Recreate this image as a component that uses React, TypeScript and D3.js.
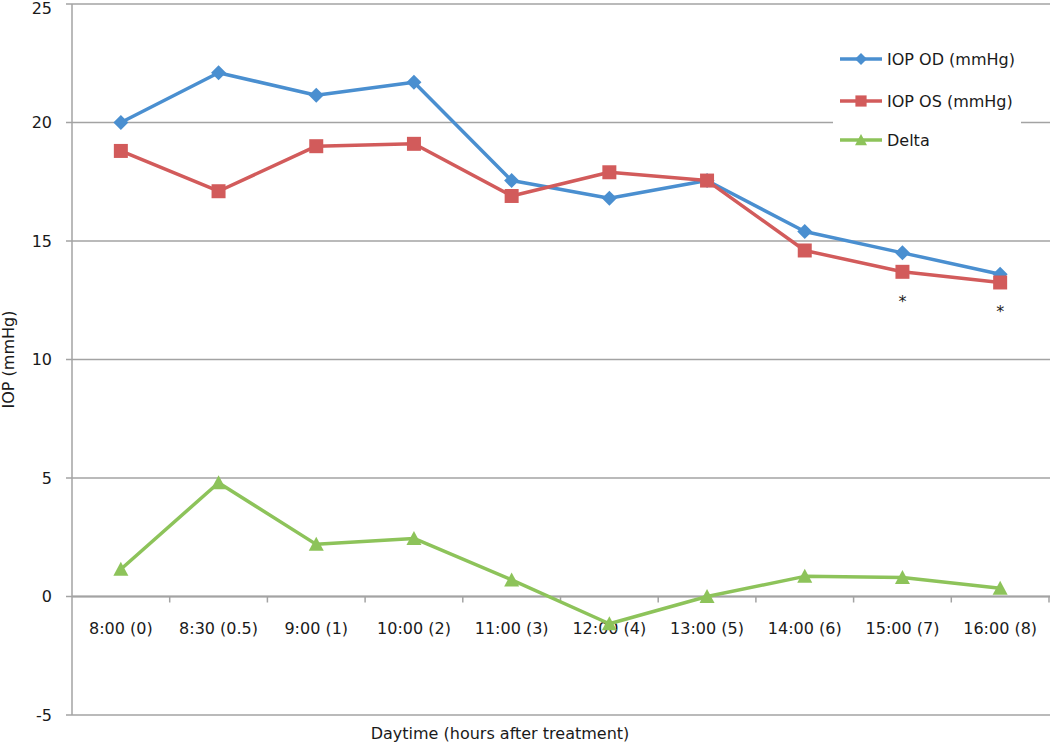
import React from "react";
import * as d3 from "d3";

const categories = [
  "8:00 (0)",
  "8:30 (0.5)",
  "9:00 (1)",
  "10:00 (2)",
  "11:00 (3)",
  "12:00 (4)",
  "13:00 (5)",
  "14:00 (6)",
  "15:00 (7)",
  "16:00 (8)",
];
const iopOD = [20.0, 22.1, 21.15, 21.7, 17.55, 16.8, 17.55, 15.4, 14.5, 13.6];
const iopOS = [18.8, 17.1, 19.0, 19.1, 16.9, 17.9, 17.55, 14.6, 13.7, 13.25];
const delta = [1.15, 4.8, 2.2, 2.45, 0.7, -1.15, 0.0, 0.85, 0.8, 0.35];
const yTicks = [-5, 0, 5, 10, 15, 20, 25];
const starred = [8, 9];

const W = 1050;
const H = 745;
const margin = { top: 4, right: 1, bottom: 30, left: 72 };
const FONT = "'DejaVu Sans', sans-serif";

const series = [
  { name: "IOP OD (mmHg)", values: iopOD, color: "#4A8FD0", marker: "diamond" },
  { name: "IOP OS (mmHg)", values: iopOS, color: "#D25B5B", marker: "square" },
  { name: "Delta", values: delta, color: "#8DC35A", marker: "triangle" },
];

const symbolPath = (m: string) => {
  if (m === "diamond") return "M0,-7.5L7.5,0L0,7.5L-7.5,0Z";
  if (m === "square") return "M-7,-7H7V7H-7Z";
  return "M0,-7.5L7.5,6.5L-7.5,6.5Z";
};

export default function App() {
  const x = d3
    .scaleBand<string>()
    .domain(categories)
    .range([margin.left, W - margin.right])
    .padding(0);
  const y = d3.scaleLinear().domain([-5, 25]).range([715, 4]);
  const cx = (i: number) => (x(categories[i]) as number) + x.bandwidth() / 2;

  const line = d3
    .line<number>()
    .x((_, i) => cx(i))
    .y((d) => y(d));

  const boundaries = categories.map((c) => (x(c) as number) + x.bandwidth());

  return (
    <svg
      width={W}
      height={H}
      style={{ position: "absolute", left: 0, top: 0, background: "#fff" }}
      fontFamily={FONT}
    >
      {/* gridlines */}
      {yTicks.map((t) => (
        <g key={t}>
          <line
            x1={margin.left - 6}
            x2={W}
            y1={y(t)}
            y2={y(t)}
            stroke="#a3a3a3"
            strokeWidth={1.5}
          />
          <text
            x={52}
            y={Math.max(y(t), 8)}
            dy="0.35em"
            textAnchor="end"
            fontSize={16}
            fill="#1a1a1a"
          >
            {t}
          </text>
        </g>
      ))}
      {/* y axis */}
      <line x1={margin.left} x2={margin.left} y1={y(25)} y2={y(-5)} stroke="#a3a3a3" strokeWidth={1.5} />
      {/* x axis at 0 */}
      <line x1={margin.left} x2={W} y1={y(0)} y2={y(0)} stroke="#a3a3a3" strokeWidth={2} />
      {boundaries.map((b, i) => (
        <line key={i} x1={b} x2={b} y1={y(0)} y2={y(0) + 6} stroke="#a3a3a3" strokeWidth={1.5} />
      ))}
      {categories.map((c, i) => (
        <text key={c} x={cx(i)} y={y(0) + 37} textAnchor="middle" fontSize={16} fill="#1a1a1a">
          {c}
        </text>
      ))}
      {/* legend background */}
      <rect x={833} y={38} width={188} height={132} fill="#fff" />
      {/* series */}
      {series.map((s) => (
        <g key={s.name}>
          <path d={line(s.values) as string} fill="none" stroke={s.color} strokeWidth={3.5} strokeLinejoin="round" />
          {s.values.map((v, i) => (
            <path key={i} d={symbolPath(s.marker)} transform={`translate(${cx(i)},${y(v)})`} fill={s.color} />
          ))}
        </g>
      ))}
      {/* significance markers */}
      {starred.map((i) => (
        <text
          key={i}
          x={cx(i)}
          y={y(Math.min(iopOD[i], iopOS[i])) + 35}
          textAnchor="middle"
          fontSize={16}
          fill="#1a1a1a"
        >
          *
        </text>
      ))}
      {/* legend */}
      {series.map((s, k) => {
        const ly = [59, 101, 140][k];
        return (
          <g key={s.name} transform={`translate(840,${ly})`}>
            <line x1={0} x2={42} y1={0} y2={0} stroke={s.color} strokeWidth={3.5} />
            <path d={symbolPath(s.marker)} transform="translate(21,0) scale(0.8)" fill={s.color} />
            <text x={47} y={0} dy="0.35em" fontSize={16} fill="#1a1a1a">
              {s.name}
            </text>
          </g>
        );
      })}
      {/* axis titles */}
      <text x={500} y={739} textAnchor="middle" fontSize={16} fill="#1a1a1a">
        Daytime (hours after treatment)
      </text>
      <text
        transform={`translate(14,${y(10)}) rotate(-90)`}
        textAnchor="middle"
        fontSize={16}
        fill="#1a1a1a"
      >
        IOP (mmHg)
      </text>
    </svg>
  );
}
